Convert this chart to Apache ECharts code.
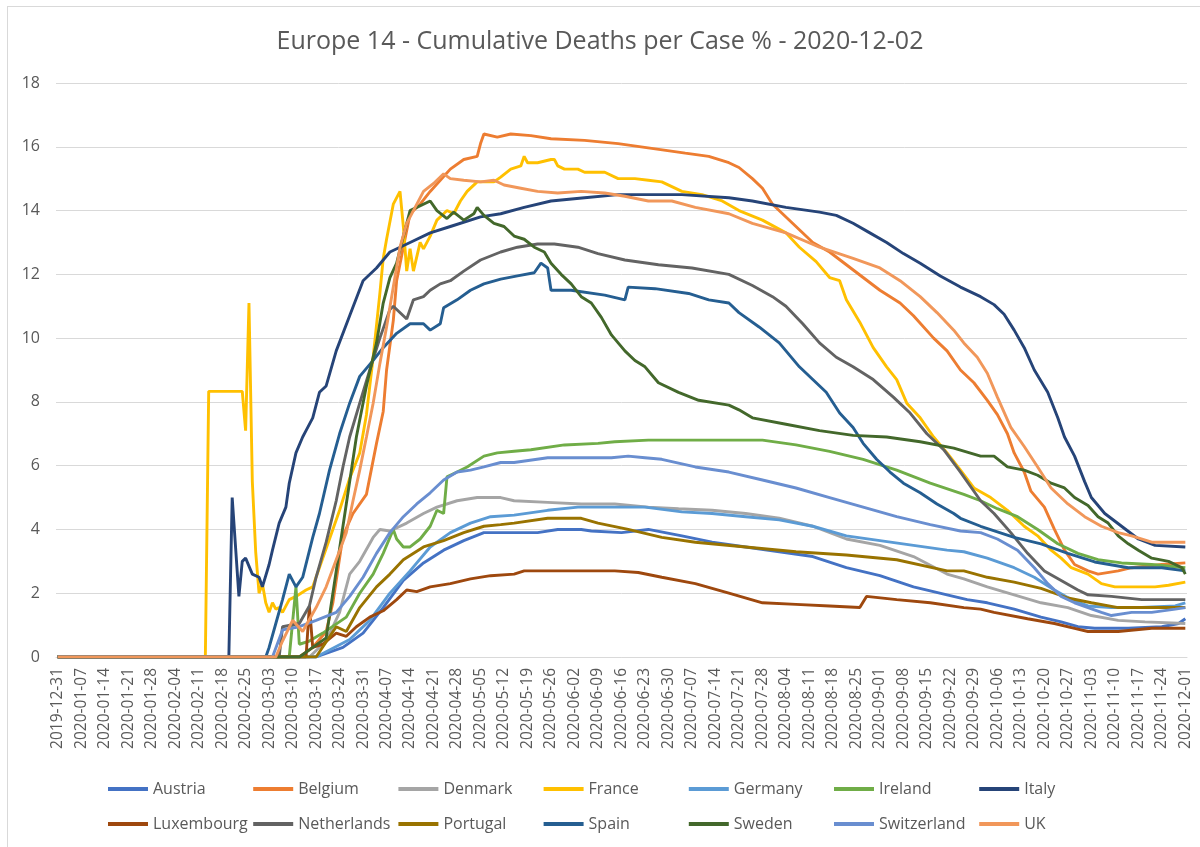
<!DOCTYPE html>
<html>
<head>
<meta charset="utf-8">
<script src="https://cdn.jsdelivr.net/npm/echarts@6/dist/echarts.min.js"></script>
<style>
  html, body { margin: 0; padding: 0; background: #fff; }
  /* Excel chart-area border: only the left and top edges are inside the shot */
  #frame { position: absolute; left: 7px; top: 6px; width: 1200px; height: 847px;
           border-left: 1px solid #d9d9d9; border-top: 1px solid #d9d9d9; }
  #chart { position: absolute; left: 0; top: 0; width: 1200px; height: 847px; }
</style>
</head>
<body>
<div id="frame"></div>
<div id="chart"></div>
<script>
const TITLE = "Europe 14 - Cumulative Deaths per Case % - 2020-12-02";
const START = "2019-12-31";
const DAYS = 337; // 2019-12-31 .. 2020-12-01, one category per day

const COUNTRIES = [
  "Austria", "Belgium", "Denmark", "France", "Germany", "Ireland", "Italy",
  "Luxembourg", "Netherlands", "Portugal", "Spain", "Sweden", "Switzerland", "UK",
];

// Excel 2013 palette as used by the source sheet, one per country above.
const COLORS = [
  "#4472C4", "#ED7D31", "#A5A5A5", "#FFC000", "#5B9BD5", "#70AD47", "#264478",
  "#9E480E", "#636363", "#997300", "#255E91", "#43682B", "#698ED0", "#F1975A",
];

// Each point is [days since START, deaths per case %].
const AUSTRIA = [[0,0],[77,0],[85,0.3],[91,0.75],[97,1.55],[103,2.4],[109,2.95],[115,3.35],[121,3.65],[127,3.9],[136,3.9],[143,3.9],[149,4.0],[156,4.0],[159,3.95],[168,3.9],[176,4.0],[186,3.8],[195,3.6],[205,3.45],[215,3.3],[225,3.15],[235,2.8],[245,2.55],[255,2.2],[265,1.95],[271,1.8],[277,1.7],[285,1.5],[293,1.25],[299,1.1],[304,0.95],[309,0.9],[319,0.9],[329,0.95],[334,1.05],[336,1.2]];
const BELGIUM = [[0,0],[72,0],[76,0.3],[80,0.8],[82,1.7],[85,3.8],[88,4.5],[92,5.1],[95,6.7],[97,7.7],[98,9.0],[100,10.55],[101,11.8],[103,12.85],[105,13.9],[108,14.2],[111,14.6],[114,14.95],[117,15.3],[121,15.6],[125,15.7],[126,16.1],[127,16.4],[131,16.3],[135,16.4],[141,16.35],[147,16.25],[157,16.2],[167,16.1],[177,15.95],[187,15.8],[194,15.7],[200,15.5],[203,15.35],[207,15.0],[210,14.7],[213,14.2],[217,13.8],[221,13.4],[225,13.0],[230,12.7],[235,12.3],[240,11.9],[245,11.5],[251,11.1],[255,10.7],[261,10.0],[265,9.6],[269,9.0],[273,8.6],[277,8.05],[280,7.6],[283,7.0],[285,6.4],[288,5.8],[290,5.2],[294,4.7],[297,4.0],[300,3.35],[303,2.9],[307,2.7],[310,2.6],[316,2.7],[320,2.8],[329,2.9],[336,2.95]];
const DENMARK = [[0,0],[75,0],[80,0.5],[84,1.4],[87,2.6],[90,3.0],[94,3.75],[96,4.0],[99,3.95],[104,4.2],[109,4.5],[113,4.7],[119,4.9],[125,5.0],[132,5.0],[136,4.9],[146,4.85],[156,4.8],[166,4.8],[176,4.7],[185,4.65],[195,4.6],[205,4.5],[215,4.35],[225,4.1],[235,3.7],[245,3.5],[255,3.15],[265,2.6],[270,2.45],[277,2.2],[285,1.95],[293,1.7],[301,1.55],[308,1.3],[316,1.15],[324,1.1],[336,1.05]];
const FRANCE = [[0,0],[44,0],[45,8.33],[55,8.33],[56,7.1],[57,11.1],[58,5.5],[59,3.3],[60,2.0],[61,2.3],[62,1.7],[63,1.4],[64,1.7],[65,1.5],[66,1.55],[67,1.4],[69,1.8],[71,1.9],[74,2.1],[76,2.2],[80,3.4],[84,4.6],[87,5.6],[90,6.4],[92,7.6],[94,9.4],[96,11.4],[97,12.5],[98,13.1],[100,14.2],[102,14.6],[103,13.5],[104,12.1],[105,12.8],[106,12.1],[108,13.0],[109,12.8],[111,13.2],[113,13.7],[116,14.0],[118,13.9],[120,14.3],[122,14.6],[125,14.9],[130,14.9],[132,15.05],[135,15.3],[138,15.4],[139,15.7],[140,15.5],[143,15.5],[147,15.6],[148,15.6],[149,15.4],[151,15.3],[155,15.3],[157,15.2],[163,15.2],[167,15.0],[172,15.0],[176,14.95],[180,14.9],[186,14.6],[192,14.5],[198,14.3],[203,14.0],[210,13.7],[217,13.3],[221,12.85],[226,12.4],[230,11.9],[233,11.8],[235,11.2],[239,10.5],[243,9.7],[247,9.1],[250,8.7],[253,7.96],[257,7.5],[261,6.9],[265,6.4],[269,5.86],[273,5.3],[278,5.0],[283,4.6],[288,4.1],[292,3.8],[296,3.35],[299,3.1],[302,2.8],[307,2.6],[311,2.3],[315,2.2],[321,2.2],[327,2.2],[331,2.25],[336,2.35]];
const GERMANY = [[0,0],[77,0],[87,0.55],[93,1.15],[99,2.0],[105,2.7],[111,3.45],[117,3.9],[123,4.2],[129,4.4],[136,4.45],[146,4.6],[155,4.7],[165,4.7],[175,4.7],[186,4.55],[195,4.5],[205,4.4],[215,4.3],[225,4.1],[235,3.8],[245,3.65],[255,3.5],[265,3.35],[270,3.3],[277,3.1],[285,2.8],[291,2.5],[297,2.1],[302,1.8],[307,1.6],[314,1.55],[323,1.55],[333,1.6],[336,1.7]];
const IRELAND = [[0,0],[69,0],[71,2.2],[72,0.4],[75,0.5],[79,0.75],[86,1.25],[90,2.0],[94,2.6],[97,3.25],[100,4.0],[101,3.7],[103,3.45],[105,3.45],[108,3.7],[111,4.1],[113,4.6],[115,4.5],[116,5.65],[119,5.8],[122,5.96],[127,6.3],[131,6.4],[136,6.45],[141,6.5],[151,6.65],[161,6.7],[166,6.75],[176,6.8],[196,6.8],[210,6.8],[220,6.65],[230,6.45],[240,6.2],[250,5.86],[260,5.45],[270,5.1],[275,4.9],[280,4.65],[286,4.4],[292,4.0],[298,3.55],[304,3.25],[310,3.05],[317,2.95],[326,2.9],[336,2.8]];
const ITALY = [[0,0],[51,0],[52,5.0],[54,1.9],[55,3.0],[56,3.1],[58,2.6],[60,2.5],[61,2.2],[63,2.9],[64,3.35],[66,4.2],[68,4.7],[69,5.45],[71,6.4],[73,6.9],[74,7.1],[76,7.5],[78,8.3],[80,8.5],[83,9.6],[87,10.7],[91,11.8],[95,12.2],[99,12.7],[105,13.0],[111,13.3],[117,13.5],[126,13.8],[132,13.9],[139,14.1],[147,14.3],[157,14.4],[167,14.5],[176,14.5],[186,14.5],[200,14.4],[207,14.3],[217,14.1],[227,13.95],[232,13.85],[237,13.6],[242,13.3],[247,13.0],[252,12.65],[257,12.35],[263,11.95],[269,11.6],[275,11.3],[279,11.05],[282,10.75],[285,10.25],[288,9.7],[291,9.0],[295,8.3],[298,7.5],[300,6.9],[303,6.3],[306,5.5],[308,5.0],[312,4.5],[317,4.1],[322,3.7],[327,3.5],[336,3.45]];
const LUXEMBOURG = [[0,0],[74,0],[75,1.6],[76,0.3],[79,0.4],[83,0.75],[86,0.65],[89,0.95],[93,1.25],[97,1.45],[101,1.8],[104,2.1],[107,2.05],[111,2.2],[117,2.3],[123,2.45],[129,2.55],[136,2.6],[139,2.7],[156,2.7],[166,2.7],[173,2.65],[180,2.5],[190,2.3],[200,2.0],[210,1.7],[220,1.65],[230,1.6],[239,1.55],[241,1.9],[250,1.8],[260,1.7],[270,1.55],[275,1.5],[279,1.4],[289,1.2],[297,1.05],[303,0.9],[307,0.8],[316,0.8],[326,0.9],[336,0.9]];
const NETHERLANDS = [[0,0],[66,0],[67,0.95],[72,1.05],[75,1.6],[77,2.5],[80,3.6],[83,4.9],[85,5.96],[87,6.9],[90,7.96],[93,9.0],[96,10.0],[99,10.9],[100,11.0],[104,10.6],[106,11.2],[109,11.3],[111,11.5],[114,11.7],[117,11.8],[121,12.1],[126,12.45],[132,12.7],[137,12.85],[143,12.95],[148,12.95],[155,12.85],[161,12.65],[169,12.45],[179,12.3],[189,12.2],[200,12.0],[207,11.65],[213,11.3],[217,11.0],[222,10.45],[227,9.85],[232,9.4],[237,9.1],[243,8.7],[249,8.15],[254,7.65],[259,7.0],[264,6.5],[269,5.8],[275,4.9],[279,4.5],[284,3.9],[289,3.25],[294,2.7],[299,2.4],[304,2.1],[307,1.95],[314,1.9],[323,1.8],[336,1.8]];
const PORTUGAL = [[0,0],[77,0],[83,0.95],[86,0.8],[90,1.55],[95,2.2],[99,2.6],[103,3.05],[109,3.45],[115,3.65],[121,3.9],[127,4.1],[132,4.15],[136,4.2],[146,4.35],[156,4.35],[161,4.2],[170,4.0],[180,3.75],[190,3.6],[205,3.45],[220,3.3],[235,3.2],[250,3.05],[265,2.7],[270,2.7],[277,2.5],[285,2.35],[293,2.15],[301,1.85],[308,1.7],[316,1.55],[324,1.55],[336,1.55]];
const SPAIN = [[0,0],[62,0],[63,0.3],[65,1.05],[67,1.8],[69,2.6],[71,2.2],[73,2.5],[76,3.75],[78,4.5],[81,5.86],[84,7.0],[87,7.96],[90,8.8],[94,9.3],[97,9.7],[101,10.15],[105,10.45],[109,10.45],[111,10.25],[114,10.45],[115,10.95],[119,11.2],[123,11.5],[127,11.7],[132,11.85],[137,11.95],[142,12.05],[144,12.35],[146,12.2],[147,11.5],[153,11.5],[163,11.35],[169,11.2],[170,11.6],[178,11.55],[188,11.4],[194,11.2],[200,11.1],[203,10.8],[209,10.35],[215,9.85],[221,9.1],[225,8.7],[229,8.3],[233,7.65],[237,7.2],[240,6.7],[244,6.2],[248,5.8],[252,5.45],[257,5.15],[262,4.8],[267,4.5],[269,4.35],[275,4.1],[285,3.75],[293,3.55],[301,3.25],[309,2.98],[319,2.8],[329,2.8],[336,2.7]];
const SWEDEN = [[0,0],[72,0],[80,0.6],[83,2.7],[86,4.8],[89,6.9],[92,8.5],[95,9.85],[97,11.1],[99,11.9],[101,12.35],[103,13.2],[105,14.0],[107,14.1],[111,14.3],[113,14.0],[116,13.75],[118,13.95],[121,13.7],[124,13.9],[125,14.1],[127,13.85],[130,13.6],[133,13.5],[136,13.2],[139,13.1],[142,12.85],[145,12.7],[147,12.35],[150,12.0],[153,11.7],[156,11.3],[159,11.1],[162,10.65],[165,10.1],[169,9.6],[172,9.3],[175,9.1],[179,8.6],[185,8.3],[191,8.05],[200,7.9],[203,7.75],[207,7.5],[217,7.3],[227,7.1],[237,6.95],[247,6.9],[257,6.75],[267,6.55],[275,6.3],[279,6.3],[283,5.96],[288,5.86],[292,5.7],[296,5.45],[300,5.3],[303,5.0],[307,4.75],[310,4.4],[313,4.2],[316,3.8],[319,3.55],[322,3.35],[326,3.1],[331,3.0],[335,2.8],[336,2.6]];
const SWITZERLAND = [[0,0],[64,0],[67,0.85],[72,0.95],[77,1.15],[83,1.4],[87,1.9],[91,2.5],[95,3.25],[99,3.9],[103,4.4],[107,4.8],[111,5.15],[115,5.55],[119,5.8],[123,5.86],[127,5.96],[132,6.1],[136,6.1],[146,6.25],[165,6.25],[170,6.3],[175,6.25],[180,6.2],[190,5.96],[200,5.8],[210,5.55],[220,5.3],[230,5.0],[240,4.7],[250,4.4],[260,4.15],[269,3.95],[275,3.9],[280,3.7],[286,3.35],[291,2.8],[295,2.3],[299,1.9],[303,1.7],[307,1.55],[311,1.4],[314,1.3],[320,1.4],[326,1.4],[333,1.5],[336,1.55]];
const UK = [[0,0],[65,0],[67,0.5],[70,1.15],[73,0.8],[77,1.55],[80,2.2],[83,3.05],[86,3.9],[88,4.9],[90,5.86],[92,6.9],[94,7.96],[96,9.2],[98,10.35],[100,11.6],[102,12.85],[104,13.6],[106,14.0],[109,14.6],[112,14.85],[115,15.15],[117,15.0],[121,14.95],[126,14.9],[130,14.95],[133,14.8],[138,14.7],[143,14.6],[149,14.55],[156,14.6],[163,14.55],[169,14.45],[176,14.3],[183,14.3],[190,14.1],[200,13.9],[207,13.6],[217,13.3],[227,12.85],[237,12.5],[245,12.2],[251,11.8],[257,11.3],[262,10.8],[267,10.25],[270,9.85],[274,9.4],[277,8.9],[280,8.15],[284,7.2],[288,6.6],[292,5.96],[296,5.3],[301,4.8],[306,4.4],[311,4.1],[316,3.9],[320,3.8],[326,3.6],[336,3.6]];

const SERIES_DATA = [
  AUSTRIA, BELGIUM, DENMARK, FRANCE, GERMANY, IRELAND, ITALY,
  LUXEMBOURG, NETHERLANDS, PORTUGAL, SPAIN, SWEDEN, SWITZERLAND, UK,
];

const Y_MIN = 0;
const Y_MAX = 18;
const Y_STEP = 2;

// Daily ISO dates for the category axis; only every 7th is labelled, as in Excel.
const DATES = [];
{
  const t0 = Date.parse(START + "T00:00:00Z");
  for (let i = 0; i < DAYS; i += 1) {
    DATES.push(new Date(t0 + i * 86400000).toISOString().slice(0, 10));
  }
}

const FONT = "Open Sans";
const TEXT = "#595959";
const GRID = "#d9d9d9";

// One legend per entry so the two rows keep Excel's even column pitch.
const legends = COUNTRIES.map((name, i) => ({
  data: [name],
  left: 108 + (i % 7) * 145.2,
  top: i < 7 ? 781 : 816,
  padding: 0,
  icon: "rect",
  itemWidth: 40,
  itemHeight: 4,
  textStyle: { fontFamily: FONT, fontSize: 16, color: TEXT },
}));

const option = {
  animation: false,
  title: {
    text: TITLE,
    left: "center",
    top: 29,
    padding: 0,
    textStyle: { fontFamily: FONT, fontSize: 25, fontWeight: "normal", color: TEXT },
  },
  legend: legends,
  grid: { left: 56, top: 83, width: 1131, height: 574 },
  xAxis: {
    type: "category",
    data: DATES,
    boundaryGap: true,
    axisLine: { lineStyle: { color: GRID } },
    axisTick: { show: false },
    axisLabel: { interval: 6, rotate: 90, margin: 11, fontFamily: FONT, fontSize: 15.5, color: TEXT },
  },
  yAxis: {
    type: "value",
    min: Y_MIN,
    max: Y_MAX,
    interval: Y_STEP,
    axisLine: { show: false },
    axisTick: { show: false },
    axisLabel: { margin: 16, fontFamily: FONT, fontSize: 16, color: TEXT },
    splitLine: { lineStyle: { color: GRID, width: 1 } },
  },
  series: COUNTRIES.map((name, i) => ({
    name,
    type: "line",
    data: SERIES_DATA[i],
    color: COLORS[i],
    symbol: "none",
    lineStyle: { width: 2.9, color: COLORS[i] },
    emphasis: { disabled: true },
  })),
};

const chart = echarts.init(document.getElementById("chart"), null, { renderer: "canvas" });
chart.setOption(option);
</script>
</body>
</html>
